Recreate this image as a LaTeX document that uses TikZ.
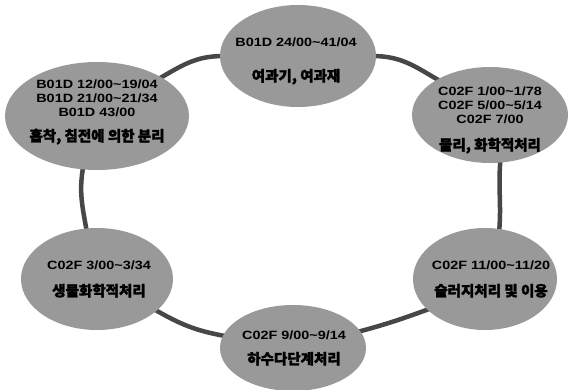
\documentclass[tikz,border=0pt]{standalone}
\usepackage{fontspec}
\setmainfont{Liberation Sans}
\newfontfamily\latf{Liberation Sans}[FakeStretch=1.2]
\newfontfamily\krf{Noto Sans CJK KR}[FakeBold=2]
\usetikzlibrary{shapes.geometric,backgrounds}
\newcommand\krtext{\krf\fontsize{14.5}{15}\selectfont}
\begin{document}
\begin{tikzpicture}[x=1pt,y=1pt,
  blob/.style={ellipse, fill=black!40, draw=none, inner sep=0pt},
  ring/.style={draw=black!72, line width=4.5pt, shorten <=-4pt, shorten >=-4pt},
  lbl/.style={align=center, inner sep=0pt, font=\bfseries\fontsize{12}{14}\selectfont}]
\useasboundingbox (0,0) rectangle (570,389);
% ellipses
\node[blob, minimum width=156pt, minimum height=102pt] (top) at (298,333) {};
\node[blob, minimum width=184pt, minimum height=108pt] (tl) at (97,273) {};
\node[blob, minimum width=156pt, minimum height=96pt] (rt) at (490,274) {};
\node[blob, minimum width=152pt, minimum height=102pt] (lf) at (97,110) {};
\node[blob, minimum width=144pt, minimum height=102pt] (br) at (485,110) {};
\node[blob, minimum width=146pt, minimum height=86pt] (bt) at (293,41) {};
% labels
\node[lbl] (ttop) at (296,328) {\latf B01D 24/00\textasciitilde 41/04\\[21pt]\krtext 여과기, 여과재};
\node[lbl] (ttl) at (97,277) {\latf B01D 12/00\textasciitilde 19/04\\\latf B01D 21/00\textasciitilde 21/34\\\latf B01D 43/00\\[11pt]\krtext 흡착, 침전에 의한 분리};
\node[lbl] (trt) at (490,269) {\latf C02F 1/00\textasciitilde 1/78\\\latf C02F 5/00\textasciitilde 5/14\\\latf C02F 7/00\\[13pt]\krtext 물리, 화학적처리};
\node[lbl] (tlf) at (99,110) {\latf C02F 3/00\textasciitilde 3/34\\[13pt]\krtext 생물화학적처리};
\node[lbl] (tbr) at (491,110) {\latf C02F 11/00\textasciitilde 11/20\\[13pt]\krtext 슬러지처리 및 이용};
\node[lbl] (tbt) at (294,41) {\latf C02F 9/00\textasciitilde 9/14\\[11pt]\krtext 하수다단계처리};
% ring
\begin{scope}[on background layer]
\draw[ring] (top.west) to[out=180,in=30] (tl.31);
\draw[ring] (tl.255) to[out=260,in=100] (lf.102);
\draw[ring] (lf.-28) to[out=-30,in=170] (bt.170);
\draw[ring] (bt.14) to[out=15,in=200] (br.208);
\draw[ring] (br.74) to[out=85,in=265] (rt.282);
\draw[ring] (rt.146) to[out=150,in=0] (top.east);
\end{scope}
\end{tikzpicture}
\end{document}
